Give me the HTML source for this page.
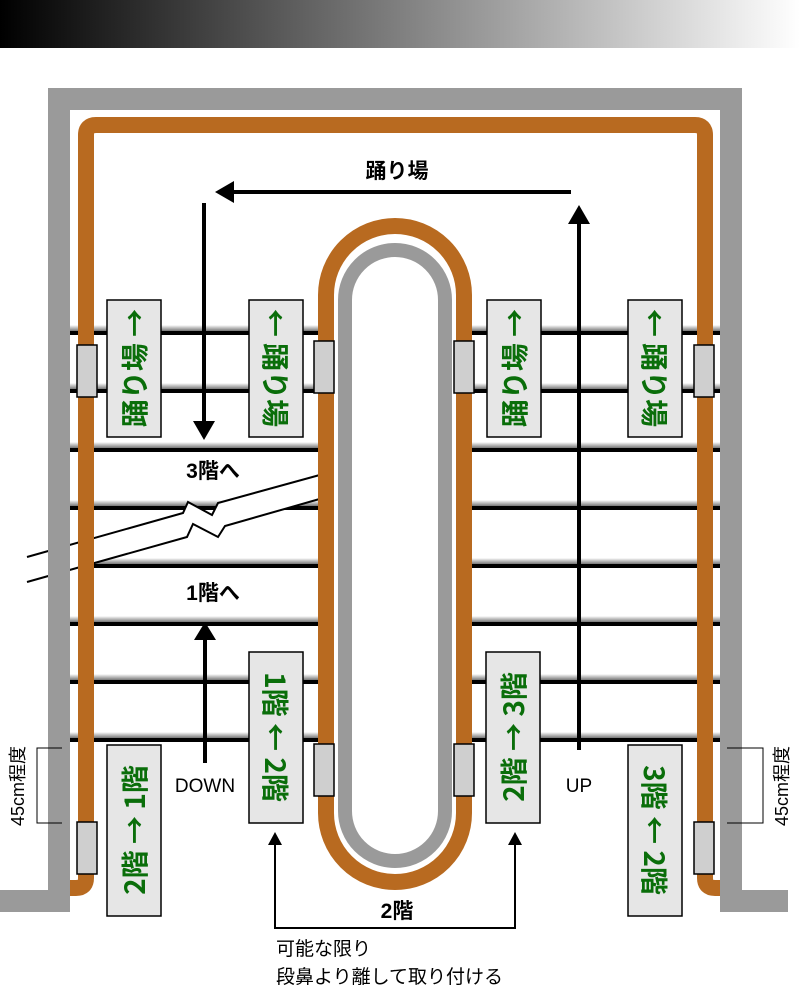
<!DOCTYPE html>
<html><head><meta charset="utf-8"><style>html,body{margin:0;padding:0;background:#fff}svg{display:block}</style></head>
<body>
<svg width="800" height="989" viewBox="0 0 800 989" xmlns="http://www.w3.org/2000/svg" font-family="Liberation Sans, Noto Sans CJK JP, sans-serif">
<defs>
<linearGradient id="top" x1="0" x2="1" y1="0" y2="0"><stop offset="0" stop-color="#000"/><stop offset="1" stop-color="#fff"/></linearGradient>
<linearGradient id="sh" x1="0" x2="0" y1="0" y2="1"><stop offset="0" stop-color="#fff"/><stop offset="1" stop-color="#777"/></linearGradient>
</defs>
<rect x="0" y="0" width="800" height="48" fill="url(#top)"/>

<g>
<rect x="70" y="325" width="650" height="6" fill="url(#sh)"/><rect x="70" y="331" width="650" height="4" fill="#000"/>
<rect x="70" y="383" width="650" height="6" fill="url(#sh)"/><rect x="70" y="389" width="650" height="4" fill="#000"/>
<rect x="70" y="442" width="650" height="6" fill="url(#sh)"/><rect x="70" y="448" width="650" height="4" fill="#000"/>
<rect x="70" y="500" width="650" height="6" fill="url(#sh)"/><rect x="70" y="506" width="650" height="4" fill="#000"/>
<rect x="70" y="558" width="650" height="6" fill="url(#sh)"/><rect x="70" y="564" width="650" height="4" fill="#000"/>
<rect x="70" y="616" width="650" height="6" fill="url(#sh)"/><rect x="70" y="622" width="650" height="4" fill="#000"/>
<rect x="70" y="674" width="650" height="6" fill="url(#sh)"/><rect x="70" y="680" width="650" height="4" fill="#000"/>
<rect x="70" y="732" width="650" height="6" fill="url(#sh)"/><rect x="70" y="738" width="650" height="4" fill="#000"/>
</g>

<path d="M27,557 L183,513 L188,502 L212,515 L218,503 L367,462 L365,486 L225,526 L218,537 L193,524 L187,537 L27,582 Z" fill="#fff"/>
<path d="M27,557 L183,513 L188,502 L212,515 L218,503 L367,462" fill="none" stroke="#000" stroke-width="2"/>
<path d="M27,582 L187,537 L193,524 L218,537 L225,526 L365,486" fill="none" stroke="#000" stroke-width="2"/>

<path d="M0,901 H59 V99 H731 V901 H788" fill="none" stroke="#9a9a9a" stroke-width="22"/>
<path d="M70,888 H76 Q86,888 86,878 V135 Q86,125 96,125 H695 Q705,125 705,135 V878 Q705,888 715,888 H720" fill="none" stroke="#b86a20" stroke-width="16"/>

<rect x="326" y="226" width="138" height="656" rx="69" fill="#fff" stroke="#b86a20" stroke-width="16"/>
<rect x="345" y="250" width="100" height="611" rx="50" fill="#fff" stroke="#9a9a9a" stroke-width="14"/>

<g fill="#cfcfcf" stroke="#000" stroke-width="1.5">
<rect x="77" y="345" width="20" height="52"/>
<rect x="314" y="341" width="20" height="52"/>
<rect x="454" y="341" width="20" height="52"/>
<rect x="694" y="345" width="20" height="52"/>
<rect x="314" y="744" width="20" height="52"/>
<rect x="454" y="744" width="20" height="52"/>
<rect x="77" y="822" width="20" height="52"/>
<rect x="694" y="822" width="20" height="52"/>
</g>

<g stroke="#000" stroke-width="4" fill="none">
<line x1="571" y1="192" x2="232" y2="192"/>
<line x1="204" y1="203" x2="204" y2="425"/>
<line x1="579" y1="750" x2="579" y2="220"/>
<line x1="205" y1="763" x2="205" y2="636"/>
</g>
<g fill="#000">
<polygon points="215,192 234,181 234,203"/>
<polygon points="204,440 193,421 215,421"/>
<polygon points="579,205 568,224 590,224"/>
<polygon points="205,622 194,640 216,640"/>
</g>
<path d="M275,842 V928 H515 V842" fill="none" stroke="#000" stroke-width="2"/>
<polygon points="275,832 268,845 282,845" fill="#000"/>
<polygon points="515,832 508,845 522,845" fill="#000"/>

<path d="M62,748 H37 V823 H62" fill="none" stroke="#000" stroke-width="1"/>
<path d="M727,748 H763 V823 H727" fill="none" stroke="#000" stroke-width="1"/>
<text transform="translate(18,786) rotate(-90)" text-anchor="middle" dominant-baseline="central" font-size="18">45cm程度</text>
<text transform="translate(782,786) rotate(-90)" text-anchor="middle" dominant-baseline="central" font-size="18">45cm程度</text>

<g fill="#e6e6e6" stroke="#000" stroke-width="1.5">
<rect x="107" y="300" width="54" height="137"/>
<rect x="249" y="300" width="54" height="137"/>
<rect x="487" y="300" width="54" height="137"/>
<rect x="628" y="300" width="54" height="137"/>
<rect x="249" y="652" width="54" height="171"/>
<rect x="486" y="652" width="54" height="171"/>
<rect x="107" y="745" width="54" height="171"/>
<rect x="628" y="745" width="54" height="171"/>
</g>
<g fill="#0a6e0a" font-weight="bold" font-size="28" text-anchor="middle" dominant-baseline="central" font-family="Noto Sans CJK JP, sans-serif">
<text transform="translate(134,368) rotate(-90)">踊り場 →</text>
<text transform="translate(276,368) rotate(90)">← 踊り場</text>
<text transform="translate(514,368) rotate(-90)">踊り場 →</text>
<text transform="translate(655,368) rotate(90)">← 踊り場</text>
<text transform="translate(276,737) rotate(90)">1階 ← 2階</text>
<text transform="translate(513,737) rotate(-90)">2階 → 3階</text>
<text transform="translate(134,830) rotate(-90)">2階 → 1階</text>
<text transform="translate(655,830) rotate(90)">3階 ← 2階</text>
</g>

<g font-weight="bold" font-size="21" text-anchor="middle">
<text x="397" y="178">踊り場</text>
<text x="213" y="478">3階へ</text>
<text x="213" y="600">1階へ</text>
<text x="397" y="918">2階</text>
</g>
<text x="205" y="792" font-size="19" text-anchor="middle">DOWN</text>
<text x="579" y="792" font-size="19" text-anchor="middle">UP</text>
<text x="276" y="955" font-size="19">可能な限り</text>
<text x="276" y="983" font-size="19">段鼻より離して取り付ける</text>
</svg>
</body></html>
